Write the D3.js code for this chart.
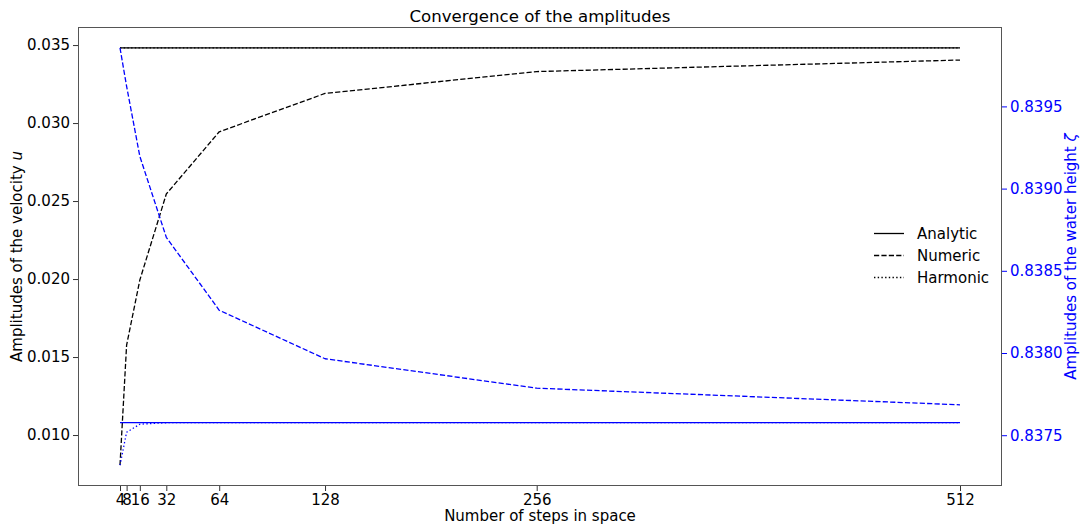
<!DOCTYPE html>
<html>
<head>
<meta charset="utf-8">
<script src="https://cdn.jsdelivr.net/npm/d3@7"></script>
<style>
  html, body { margin: 0; padding: 0; background: #fff; }
  svg { display: block; font-family: "DejaVu Sans", sans-serif; }
</style>
</head>
<body>
<svg id="chart" width="1081" height="527"></svg>
<script>
// Number of spatial steps
const steps = [4, 8, 16, 32, 64, 128, 256, 512];
const xTicks = [4, 8, 16, 32, 64, 128, 256, 512];

// Velocity amplitudes (left axis)
const uAnalytic = [0.03482, 0.03482, 0.03482, 0.03482, 0.03482, 0.03482, 0.03482, 0.03482];
const uNumeric  = [0.00807, 0.01577, 0.01994, 0.02545, 0.02944, 0.03190, 0.03330, 0.03404];
const uHarmonic = [0.03482, 0.03482, 0.03482, 0.03482, 0.03482, 0.03482, 0.03482, 0.03482];

// Water-height amplitudes (right axis)
const zAnalytic = [0.837577, 0.837577, 0.837577, 0.837577, 0.837577, 0.837577, 0.837577, 0.837577];
const zNumeric  = [0.839856, 0.839622, 0.839196, 0.838704, 0.838260, 0.837965, 0.837786, 0.837685];
const zHarmonic = [0.837318, 0.837518, 0.837567, 0.837576, 0.837577, 0.837577, 0.837577, 0.837577];

const uTicks = [0.010, 0.015, 0.020, 0.025, 0.030, 0.035];
const zTicks = [0.8375, 0.8380, 0.8385, 0.8390, 0.8395];

const legendItems = [
  { label: "Analytic", dash: null },
  { label: "Numeric",  dash: "5.2,2.2" },
  { label: "Harmonic", dash: "1.4,2.3" }
];

const svg = d3.select("#chart");
const L = 78, R = 1002, T = 27, B = 486;

// Axis limits with 5% padding around the data
function padded(arrs) {
  const all = arrs.flat();
  const lo = d3.min(all), hi = d3.max(all), pad = (hi - lo) * 0.05;
  return [lo - pad, hi + pad];
}
const xPad = (d3.max(steps) - d3.min(steps)) * 0.05;
const x = d3.scaleLinear().domain([d3.min(steps) - xPad, d3.max(steps) + xPad]).range([L, R]);
const yU = d3.scaleLinear().domain(padded([uAnalytic, uNumeric, uHarmonic])).range([B, T]);
const yZ = d3.scaleLinear().domain(padded([zAnalytic, zNumeric, zHarmonic])).range([B, T]);

svg.append("rect").attr("width", 1081).attr("height", 527).attr("fill", "#fff");

svg.append("clipPath").attr("id", "plotclip")
  .append("rect").attr("x", L).attr("y", T).attr("width", R - L).attr("height", B - T);

const plot = svg.append("g").attr("clip-path", "url(#plotclip)");

function drawLine(vals, scale, color, dash) {
  const line = d3.line().x((d, i) => x(steps[i])).y(d => scale(d));
  const p = plot.append("path")
    .attr("d", line(vals))
    .attr("fill", "none")
    .attr("stroke", color)
    .attr("stroke-width", 1.3)
    .attr("stroke-linejoin", "round");
  if (dash) p.attr("stroke-dasharray", dash);
}

drawLine(uAnalytic, yU, "#000", null);
drawLine(uNumeric, yU, "#000", "5.2,2.2");
drawLine(uHarmonic, yU, "#000", "1.4,2.3");
drawLine(zAnalytic, yZ, "#0000ff", null);
drawLine(zNumeric, yZ, "#0000ff", "5.2,2.2");
drawLine(zHarmonic, yZ, "#0000ff", "1.4,2.3");

// Axes
const fs = 15;
const xAxis = d3.axisBottom(x).tickValues(xTicks).tickFormat(d3.format("d")).tickSizeOuter(0).tickSize(5).tickPadding(3);
const gx = svg.append("g").attr("transform", `translate(0,${B})`).call(xAxis);
const yAxisL = d3.axisLeft(yU).tickValues(uTicks).tickFormat(d3.format(".3f")).tickSizeOuter(0).tickSize(5).tickPadding(3);
const gl = svg.append("g").attr("transform", `translate(${L},0)`).call(yAxisL);
const yAxisR = d3.axisRight(yZ).tickValues(zTicks).tickFormat(d3.format(".4f")).tickSizeOuter(0).tickSize(5).tickPadding(3);
const gr = svg.append("g").attr("transform", `translate(${R},0)`).call(yAxisR);

[gx, gl, gr].forEach(g => {
  g.select(".domain").remove();
  g.selectAll("text").attr("font-size", fs).attr("font-family", "DejaVu Sans, sans-serif");
});
gx.selectAll("line").attr("stroke", "#333");
gx.selectAll("text").attr("fill", "#000");
gl.selectAll("line").attr("stroke", "#333");
gl.selectAll("text").attr("fill", "#000");
gr.selectAll("line").attr("stroke", "#0000ff");
gr.selectAll("text").attr("fill", "#0000ff");

// Frame
svg.append("rect").attr("x", L + 0.5).attr("y", T + 0.5).attr("width", R - L - 1).attr("height", B - T - 1)
  .attr("fill", "none").attr("stroke", "#555").attr("stroke-width", 1);

// Titles and labels
svg.append("text").attr("x", (L + R) / 2).attr("y", 22).attr("text-anchor", "middle")
  .attr("font-size", 16.6).text("Convergence of the amplitudes");
svg.append("text").attr("x", (L + R) / 2).attr("y", 521).attr("text-anchor", "middle")
  .attr("font-size", fs).text("Number of steps in space");

const ylab = svg.append("text").attr("transform", `translate(22,${(T + B) / 2}) rotate(-90)`)
  .attr("text-anchor", "middle").attr("font-size", fs);
ylab.append("tspan").text("Amplitudes of the velocity ");
ylab.append("tspan").attr("font-style", "italic").text("u");

const zlab = svg.append("text").attr("transform", `translate(1076,${(T + B) / 2}) rotate(-90)`)
  .attr("text-anchor", "middle").attr("font-size", fs).attr("fill", "#0000ff");
zlab.append("tspan").text("Amplitudes of the water height ");
zlab.append("tspan").attr("font-style", "italic").text("ζ");

// Legend
const lg = svg.append("g");
legendItems.forEach((it, i) => {
  const yy = 233.5 + i * 22;
  const ln = lg.append("line").attr("x1", 874).attr("x2", 904).attr("y1", yy).attr("y2", yy)
    .attr("stroke", "#000").attr("stroke-width", 1.3);
  if (it.dash) ln.attr("stroke-dasharray", it.dash);
  lg.append("text").attr("x", 917).attr("y", yy).attr("dy", "0.35em")
    .attr("font-size", fs).text(it.label);
});
</script>
</body>
</html>
